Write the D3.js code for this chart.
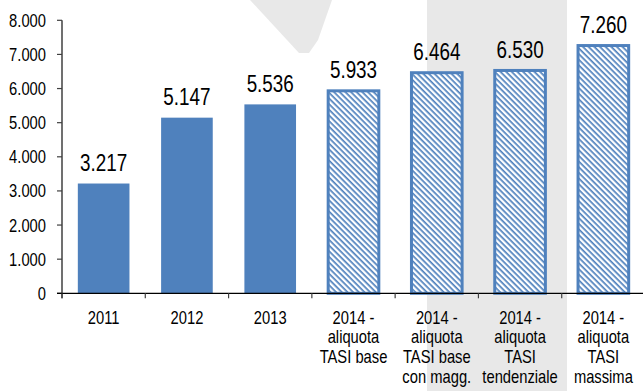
<!DOCTYPE html>
<html>
<head>
<meta charset="utf-8">
<script src="https://cdn.jsdelivr.net/npm/d3@7"></script>
<style>
	body { margin: 0; background: #fff; }
	svg text { font-family: "Liberation Sans", Arial, sans-serif; fill: #000; }
</style>
</head>
<body>
<svg id="chart" width="643" height="391"></svg>
<script>
// data
const categories = ["2011", "2012", "2013", "2014a", "2014b", "2014c", "2014d"];
const categoryLabels = [
	["2011"],
	["2012"],
	["2013"],
	["2014 -", "aliquota", "TASI base"],
	["2014 -", "aliquota", "TASI base", "con magg."],
	["2014 -", "aliquota", "TASI", "tendenziale"],
	["2014 -", "aliquota", "TASI", "massima"]
];
const values = [3217, 5147, 5536, 5933, 6464, 6530, 7260];
const estimated = [false, false, false, true, true, true, true];
const yTicks = [0, 1000, 2000, 3000, 4000, 5000, 6000, 7000, 8000];

const blue = "#4f81bd";
const narrow = 0.82; // the original uses a condensed face
const it = d3.formatLocale({ decimal: ",", thousands: ".", grouping: [3], currency: ["", ""] });
const fmt = it.format(",d");

const svg = d3.select("#chart");

// narrow text: place at (x, y) and squeeze horizontally
function label(parent, x, y, size, anchor) {
	return parent.append("text")
		.attr("transform", `translate(${x},${y}) scale(${narrow},1)`)
		.attr("text-anchor", anchor)
		.attr("font-size", size);
}

// background watermark shapes
const bg = svg.append("g").attr("fill", "#e8e8e8");
bg.append("rect").attr("x", 427).attr("y", 0).attr("width", 140).attr("height", 391);
bg.append("path").attr("d", "M250,0 L332,0 L318,40 L309,53 L299,53 Z");

const defs = svg.append("defs");
const pat = defs.append("pattern")
	.attr("id", "hatch")
	.attr("patternUnits", "userSpaceOnUse")
	.attr("width", 4)
	.attr("height", 4)
	.attr("patternTransform", "rotate(45)");
pat.append("rect").attr("width", 4).attr("height", 4).attr("fill", "#fff");
pat.append("rect").attr("x", 0).attr("y", 0).attr("width", 4).attr("height", 1.7).attr("fill", blue);

const mLeft = 62, mRight = 645, mTop = 20.3, mBottom = 293.3;

const x = d3.scaleBand().domain(categories).range([mLeft, mRight]);
const y = d3.scaleLinear().domain([0, 8000]).range([mBottom, mTop]);

const barW = x.bandwidth() * 0.62;

// bars
const bars = svg.append("g");
categories.forEach((c, i) => {
	const cx = x(c) + x.bandwidth() / 2;
	if (estimated[i]) {
		bars.append("rect")
			.attr("x", cx - barW / 2 + 0.5)
			.attr("y", y(values[i]))
			.attr("width", barW - 1)
			.attr("height", y(0) - y(values[i]))
			.attr("fill", "url(#hatch)")
			.attr("stroke", blue)
			.attr("stroke-width", 3);
	} else {
		bars.append("rect")
			.attr("x", cx - barW / 2)
			.attr("y", y(values[i]))
			.attr("width", barW)
			.attr("height", y(0) - y(values[i]))
			.attr("fill", blue);
	}
	label(svg, cx, y(values[i]) - 12.5, 23, "middle").text(fmt(values[i]));
});

// y axis
const yAxis = svg.append("g");
yAxis.append("line")
	.attr("x1", mLeft).attr("x2", mLeft)
	.attr("y1", mTop).attr("y2", mBottom + 5)
	.attr("stroke", "#404040").attr("stroke-width", 1.5);
yTicks.forEach(t => {
	yAxis.append("line")
		.attr("x1", mLeft - 5).attr("x2", mLeft)
		.attr("y1", y(t)).attr("y2", y(t))
		.attr("stroke", "#404040").attr("stroke-width", 1.2);
	label(yAxis, 46, y(t) + 6.5, 18, "end").text(fmt(t));
});

// x axis
const xAxis = svg.append("g");
xAxis.append("line")
	.attr("x1", mLeft - 5).attr("x2", 643)
	.attr("y1", mBottom).attr("y2", mBottom)
	.attr("stroke", "#000").attr("stroke-width", 1.2);
categories.forEach((c, i) => {
	xAxis.append("line")
		.attr("x1", x(c)).attr("x2", x(c))
		.attr("y1", mBottom).attr("y2", mBottom + 5)
		.attr("stroke", "#404040").attr("stroke-width", 1.2);
	const t = label(xAxis, x(c) + x.bandwidth() / 2, 323.5, 18, "middle");
	categoryLabels[i].forEach((line, j) => {
		t.append("tspan")
			.attr("x", 0)
			.attr("y", j * 20)
			.text(line);
	});
});
</script>
</body>
</html>
